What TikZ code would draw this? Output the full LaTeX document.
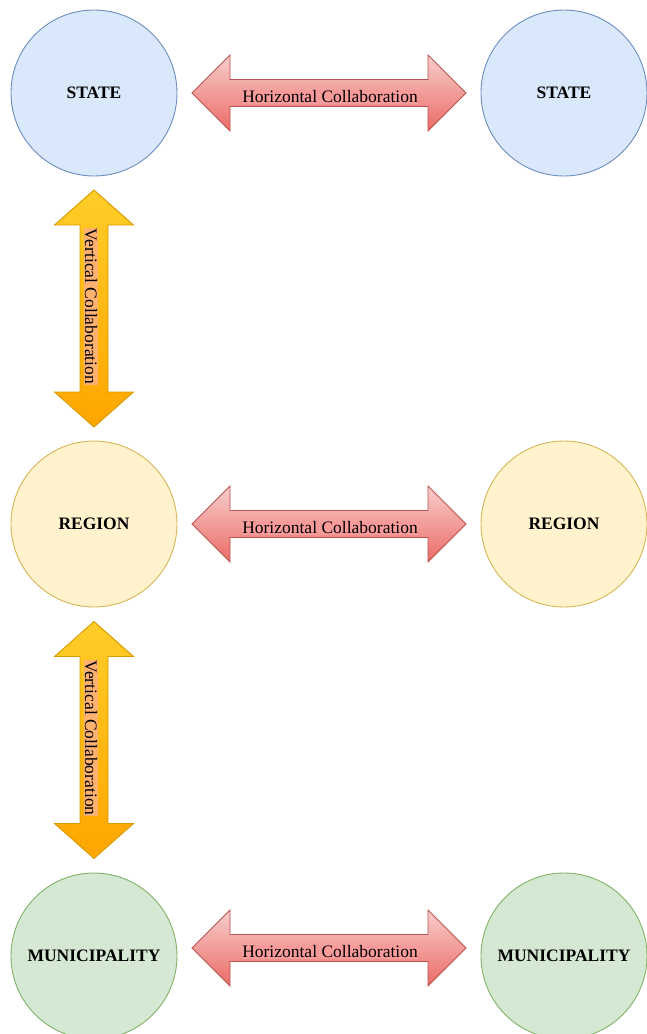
\documentclass[tikz,border=0pt]{standalone}
\usepackage{fontspec}
\setmainfont{Liberation Serif}
\usetikzlibrary{calc}
\definecolor{stfill}{HTML}{DAE8FC}\definecolor{stline}{HTML}{6C8EBF}
\definecolor{rgfill}{HTML}{FFF2CC}\definecolor{rgline}{HTML}{D6B656}
\definecolor{mufill}{HTML}{D5E8D4}\definecolor{muline}{HTML}{82B366}
\definecolor{htop}{HTML}{F8CECC}\definecolor{hbot}{HTML}{EA6B66}\definecolor{hline}{HTML}{B85450}
\definecolor{vtop}{HTML}{FFCD28}\definecolor{vbot}{HTML}{FFA500}\definecolor{vline}{HTML}{D79B00}
\definecolor{hlab}{RGB}{250,155,155}
\definecolor{vlab}{RGB}{255,178,112}
\tikzset{
  levelcirc/.style={circle, minimum size=166pt, inner sep=0pt, line width=0.9pt,
    font=\fontsize{17.5}{20}\selectfont\bfseries},
  statec/.style={levelcirc, draw=stline, fill=stfill},
  regionc/.style={levelcirc, draw=rgline, fill=rgfill},
  municc/.style={levelcirc, draw=muline, fill=mufill},
  harrow/.style={draw=hline, line width=0.9pt, top color=htop, bottom color=hbot},
  varrow/.style={draw=vline, line width=0.9pt, top color=vtop, bottom color=vbot},
  hlabel/.style={fill=hlab, inner sep=0.5pt, font=\fontsize{17.5}{20}\selectfont},
  vlabel/.style={fill=vlab, inner sep=0.5pt, rotate=-90, font=\fontsize{17.5}{20}\selectfont},
}
\begin{document}
\begin{tikzpicture}[x=1pt, y=-1pt]
\useasboundingbox (0,0) rectangle (646,1034);
% level circles
\node[statec]  (s1) at (94,93)  {STATE};
\node[statec]  (s2) at (564,93) {STATE};
\node[regionc] (r1) at (94,524) {REGION};
\node[regionc] (r2) at (564,524) {REGION};
\node[municc]  (m1) at (94,956) {MUNICIPALITY};
\node[municc]  (m2) at (564,956) {MUNICIPALITY};
% arrow centres
\coordinate (h1) at ($(s1)!0.5!(s2)$);
\coordinate (h2) at ($(r1)!0.5!(r2)$);
\coordinate (h3) at ($($(m1)!0.5!(m2)$)+(0,-8)$);
\coordinate (v1) at ($(s1)!0.5!(r1)$);
\coordinate (v2) at ($(r1)!0.5!(m1)$);
% horizontal collaboration arrows
\foreach \c in {h1,h2,h3}{
  \path[harrow, shift={(\c)}] (-137,0) -- (-99,-38) -- (-99,-13.5) -- (99,-13.5) -- (99,-38)
    -- (137,0) -- (99,38) -- (99,13.5) -- (-99,13.5) -- (-99,38) -- cycle;
}
\node[hlabel] (hl1) at ($(h1)+(1,4)$) {Horizontal Collaboration};
\node[hlabel] (hl2) at ($(h2)+(1,4)$) {Horizontal Collaboration};
\node[hlabel] (hl3) at ($(h3)+(1,4)$) {Horizontal Collaboration};
% vertical collaboration arrows
\foreach \c in {v1,v2}{
  \path[varrow, shift={(\c)}] (0,-118.5) -- (39.5,-83.5) -- (14,-83.5) -- (14,83.5) -- (39.5,83.5)
    -- (0,118.5) -- (-39.5,83.5) -- (-14,83.5) -- (-14,-83.5) -- (-39.5,-83.5) -- cycle;
}
\node[vlabel] (vl1) at ($(v1)+(-3,-2)$) {Vertical Collaboration};
\node[vlabel] (vl2) at ($(v2)+(-3,-2)$) {Vertical Collaboration};
\end{tikzpicture}
\end{document}
